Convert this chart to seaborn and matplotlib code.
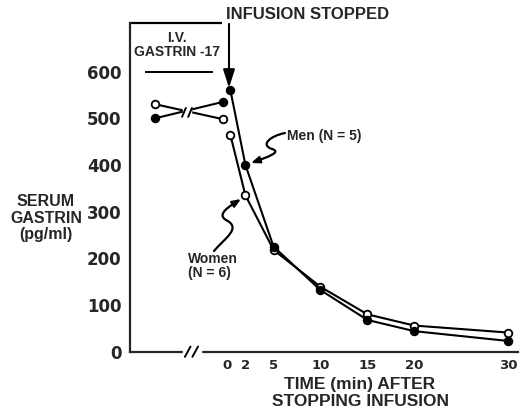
import numpy as np
import pandas as pd
import seaborn as sns
import matplotlib.pyplot as plt
from matplotlib.patches import FancyArrowPatch, Rectangle
from matplotlib.path import Path

# datos
pre_t = [-7.6, -0.4]          # durante la infusion (eje cortado)
men_pre = [500, 535]
women_pre = [530, 498]
post_t = [0.4, 2, 5, 10, 15, 20, 30]   # minutos tras parar la infusion
men_post = [560, 400, 225, 132, 68, 44, 23]
women_post = [464, 335, 218, 139, 80, 56, 41]
xtick_pos = [-7.3, 0, 2, 5, 10, 15, 20, 30]
xtick_lab = ["", "0", "2", "5", "10", "15", "20", "30"]
yticks = [0, 100, 200, 300, 400, 500, 600]

sns.set_style("white")
plt.rcParams["font.family"] = ["Liberation Sans", "DejaVu Sans"]
plt.rcParams["font.weight"] = "bold"

W, H = 520, 411
fig = plt.figure(figsize=(5.2, 4.11), dpi=100)
ax = fig.add_axes([130 / W, 59.3 / H, 388 / W, 328.7 / H])

def px(x, y):
    # pixel de la imagen -> fraccion de figura
    return (x / W, (H - y) / H)

pre = pd.DataFrame({"t": pre_t, "men": men_pre, "women": women_pre})
post = pd.DataFrame({"t": post_t, "men": men_post, "women": women_post})

for df in (pre, post):
    sns.lineplot(data=df, x="t", y="women", ax=ax, color="k", lw=1.5,
                 marker="o", ms=5.5, mfc="white", mec="k", mew=1.3, zorder=4)
    sns.lineplot(data=df, x="t", y="men", ax=ax, color="k", lw=1.5,
                 marker="o", ms=5.5, mfc="k", mec="k", mew=1.3, zorder=4)

ax.set_xlim(-10.3, 31.05)
ax.set_ylim(0, 704)
ax.set_xticks(xtick_pos)
ax.set_xticklabels(xtick_lab, fontsize=9.5, family="DejaVu Sans", fontweight="bold")
ax.set_yticks(yticks)
ax.set_yticklabels([str(v) for v in yticks], fontsize=12, family="DejaVu Sans", fontweight="bold")
ax.tick_params(axis="x", direction="in", length=5, width=1.5, pad=5)
ax.tick_params(axis="y", direction="out", length=5, width=1.5, pad=1)
for s in ["top", "right"]:
    ax.spines[s].set_visible(False)
for s in ["left", "bottom"]:
    ax.spines[s].set_linewidth(1.6)
ax.set_xlabel("")
ax.set_ylabel("")

# corte de las lineas y del eje
ax.add_patch(Rectangle((-4.62, 488), 0.8, 50, color="white", zorder=5))
ax.plot([-4.75, -4.35], [503, 522], color="k", lw=1.4, zorder=6)
ax.plot([-4.1, -3.7], [503, 522], color="k", lw=1.4, zorder=6)
ax.add_patch(Rectangle((-4.66, -10), 1.95, 20, color="white", zorder=5, clip_on=False))
ax.plot([-4.45, -3.85], [-11, 11], color="k", lw=1.4, zorder=6, clip_on=False)
ax.plot([-3.65, -3.05], [-11, 11], color="k", lw=1.4, zorder=6, clip_on=False)

# barra de infusion
ax.hlines(704, -10.3, -0.5, color="k", lw=1.6, clip_on=False)
ax.hlines(600, -8.7, -1.45, color="k", lw=1.4)
ax.text(-5.3, 657, "I.V.\nGASTRIN -17", ha="center", va="center",
        fontsize=10, linespacing=1.05)
ax.text(-0.1, 722, "INFUSION STOPPED", ha="left", va="center", fontsize=12,
        clip_on=False)
ax.annotate("", xy=(0.25, 565), xytext=(0.25, 702),
            arrowprops=dict(arrowstyle="-|>,head_length=1.1,head_width=0.35",
                            color="k", lw=1.5, shrinkA=0, shrinkB=0))

# etiquetas de ejes
fig.text(*px(46, 218), "SERUM\nGASTRIN\n(pg/ml)", ha="center", va="center",
         fontsize=11.5, linespacing=1.1)
fig.text(*px(360, 393), "TIME (min) AFTER\nSTOPPING INFUSION", ha="center",
         va="center", fontsize=12.5, linespacing=1.1)

# rotulos con flecha ondulada
fig.text(*px(287, 136), "Men (N = 5)", ha="left", va="center", fontsize=10)
fig.text(*px(188, 266), "Women\n(N = 6)", ha="left", va="center", fontsize=10,
         linespacing=1.05)

def squiggle(pts):
    verts = [px(*p) for p in pts]
    codes = [Path.MOVETO] + [Path.CURVE4] * (len(verts) - 1)
    arr = FancyArrowPatch(path=Path(verts, codes), transform=fig.transFigure,
                          arrowstyle="-|>,head_length=5,head_width=2",
                          color="k", lw=1.6)
    fig.add_artist(arr)

squiggle([(285, 133), (270, 136), (260, 145), (272, 149),
          (282, 152), (268, 157), (251, 163)])
squiggle([(214, 251), (225, 238), (242, 228), (226, 220),
          (216, 214), (230, 206), (241, 199)])

fig.savefig("out.png", dpi=100)
